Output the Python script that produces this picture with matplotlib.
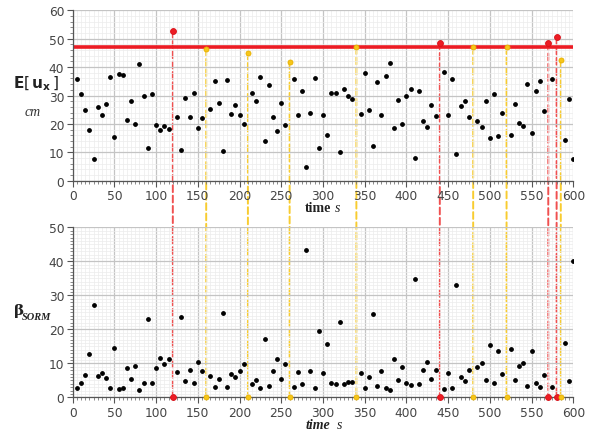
import numpy as np
import matplotlib
matplotlib.use("Agg")
import matplotlib.pyplot as plt
from matplotlib.patches import ConnectionPatch
from matplotlib.ticker import MultipleLocator

# sample times (every 5 s)
t = np.arange(5, 605, 5)

# mean displacement E[u_x] in cm
E_ux = [35.8, 30.6, 24.9, 17.7, 7.7, 25.8, 23.0, 26.9, 36.6, 15.4, 37.7, 37.1,
        21.5, 28.1, 20.1, 41.0, 29.9, 11.4, 30.5, 19.7, 17.8, 19.1, 18.3, 52.8,
        22.5, 10.9, 29.1, 22.5, 30.8, 18.7, 22.2, 46.5, 25.2, 35.2, 27.4, 10.4,
        35.5, 23.6, 26.5, 23.0, 20.0, 45.1, 30.8, 27.9, 36.6, 14.1, 33.6, 22.4,
        17.4, 27.4, 19.7, 41.8, 35.8, 23.3, 31.7, 5.0, 24.0, 36.2, 11.5, 23.0,
        16.0, 31.0, 30.9, 10.0, 32.4, 29.8, 28.8, 47.0, 23.4, 37.8, 24.9, 12.1,
        34.9, 23.2, 36.8, 41.3, 18.7, 28.3, 20.0, 29.7, 32.4, 7.9, 31.5, 20.9,
        18.8, 26.7, 22.8, 48.6, 38.3, 23.2, 35.7, 9.3, 26.2, 28.1, 22.4, 47.0,
        20.9, 19.0, 28.2, 15.1, 30.4, 15.7, 24.0, 47.0, 16.2, 27.1, 20.4, 19.4,
        34.2, 16.7, 31.5, 35.1, 24.5, 48.4, 35.8, 50.5, 42.6, 14.3, 28.9, 7.5]

# SORM reliability index
beta = [2.8, 4.3, 6.6, 12.7, 27.2, 6.4, 7.1, 5.6, 2.7, 14.5, 2.5, 2.7,
        8.6, 5.5, 9.2, 2.2, 4.2, 23.0, 4.2, 8.7, 11.6, 9.9, 11.2, 0.0,
        7.5, 23.5, 4.7, 8.0, 4.3, 10.4, 7.8, 0.0, 6.2, 3.0, 5.4, 24.9,
        2.9, 7.0, 5.9, 7.8, 9.9, 0.0, 4.0, 5.1, 2.7, 17.1, 3.3, 7.8,
        11.2, 5.4, 9.8, 0.0, 2.9, 7.3, 3.9, 43.3, 7.6, 2.8, 19.5, 7.1,
        15.7, 4.2, 3.9, 22.1, 3.8, 4.5, 4.5, 0.0, 7.2, 2.6, 6.0, 24.6,
        3.2, 7.7, 2.8, 2.1, 11.2, 5.2, 9.0, 4.2, 3.7, 34.8, 4.0, 8.1,
        10.5, 5.5, 8.1, 0.0, 2.5, 7.1, 2.8, 32.9, 6.0, 4.8, 7.9, 0.0,
        8.9, 10.0, 5.1, 15.3, 4.3, 13.5, 7.0, 0.0, 14.3, 5.2, 9.2, 10.0,
        3.3, 13.5, 4.1, 3.0, 6.7, 0.0, 2.9, 0.0, 0.0, 16.0, 4.8, 40.0]

u_limit = 47.1

E_ux = np.array(E_ux)
beta = np.array(beta)
fail = beta == 0
over = fail & (E_ux > u_limit)
under = fail & (E_ux <= u_limit)
ok = ~fail

RED = "#ec1c24"
YEL = "#f6c619"

W, H = 592, 435
fig = plt.figure(figsize=(W / 100, H / 100), dpi=100)
fig.patch.set_facecolor("white")


def box(l, tp, r, b):
    return [l / W, 1 - b / H, (r - l) / W, (b - tp) / H]


ax1 = fig.add_axes(box(72.7, 11.3, 573.3, 181.7))
ax2 = fig.add_axes(box(72.7, 228.3, 573.3, 398.3))

for ax, ymax, ymin_step in ((ax1, 60, 2), (ax2, 50, 1)):
    ax.set_facecolor("none")
    ax.set_xlim(0, 600)
    ax.set_ylim(0, ymax)
    ax.xaxis.set_major_locator(MultipleLocator(50))
    ax.xaxis.set_minor_locator(MultipleLocator(5))
    ax.yaxis.set_major_locator(MultipleLocator(10))
    ax.yaxis.set_minor_locator(MultipleLocator(ymin_step))
    ax.grid(which="major", color="#c4c4c4", lw=0.9)
    ax.grid(which="minor", color="#ececec", lw=0.5)
    ax.set_axisbelow(True)
    for s in ("top", "right"):
        ax.spines[s].set_visible(False)
    for s in ("left", "bottom"):
        ax.spines[s].set_color("#555555")
        ax.spines[s].set_linewidth(0.9)
    ax.tick_params(which="major", length=4, color="#555555", labelsize=8.8,
                   labelcolor="#444444", pad=2)
    ax.tick_params(which="minor", length=2.2, color="#777777")

# top panel
ax1.axhline(u_limit, color=RED, lw=2.6, zorder=2)
ax1.scatter(t[ok], E_ux[ok], s=6, color="black", zorder=3)
ax1.scatter(t[over], E_ux[over], s=18, color=RED, edgecolors="#d81018",
            lw=0.6, zorder=4, clip_on=False)
ax1.scatter(t[under], E_ux[under], s=13, color=YEL, edgecolors="#e8b000",
            lw=0.6, zorder=4, clip_on=False)

# bottom panel
ax2.scatter(t[ok], beta[ok], s=6, color="black", zorder=3)
ax2.scatter(t[over], beta[over], s=18, color=RED, edgecolors="#d81018",
            lw=0.6, zorder=4, clip_on=False)
ax2.scatter(t[under], beta[under], s=13, color=YEL, edgecolors="#e8b000",
            lw=0.6, zorder=4, clip_on=False)

# dashed links between the two panels for the failure instants
for ti, ei, red in zip(t[fail], E_ux[fail], over[fail]):
    con = ConnectionPatch(xyA=(ti, ei), coordsA=ax1.transData,
                          xyB=(ti, 0), coordsB=ax2.transData,
                          color="#f05050" if red else "#f8cc30",
                          lw=1.4, linestyle=(0, (3.5, 1.8)), zorder=-1)
    fig.add_artist(con)

# axis labels
fig.text(13 / W, 1 - 88 / H, r"$\mathbf{E}\left[\,\mathbf{u}_{\mathbf{x}}\,\right]$",
         fontsize=11, ha="left", va="baseline", color="#222222")
fig.text(33 / W, 1 - 116 / H, "cm", fontsize=10, style="italic",
         family="Liberation Serif", ha="center", va="baseline", color="#333333")
fig.text(14 / W, 1 - 315 / H, "β", fontsize=11, weight="bold",
         family="DejaVu Serif", ha="left", va="baseline", color="#222222")
fig.text(22 / W, 1 - 320 / H, "SORM", fontsize=7.5, weight="bold", style="italic",
         family="Liberation Serif", ha="left", va="baseline", color="#222222")

fig.text(305 / W, 1 - 212 / H, "time", fontsize=10, weight="bold",
         family="Liberation Serif", ha="left", va="baseline", color="#222222")
fig.text(335 / W, 1 - 212 / H, "s", fontsize=10, style="italic",
         family="Liberation Serif", ha="left", va="baseline", color="#222222")
fig.text(306 / W, 1 - 429 / H, "time", fontsize=10, weight="bold", style="italic",
         family="Liberation Serif", ha="left", va="baseline", color="#222222")
fig.text(337 / W, 1 - 429 / H, "s", fontsize=10, style="italic",
         family="Liberation Serif", ha="left", va="baseline", color="#222222")

fig.savefig("out.png", dpi=100)
